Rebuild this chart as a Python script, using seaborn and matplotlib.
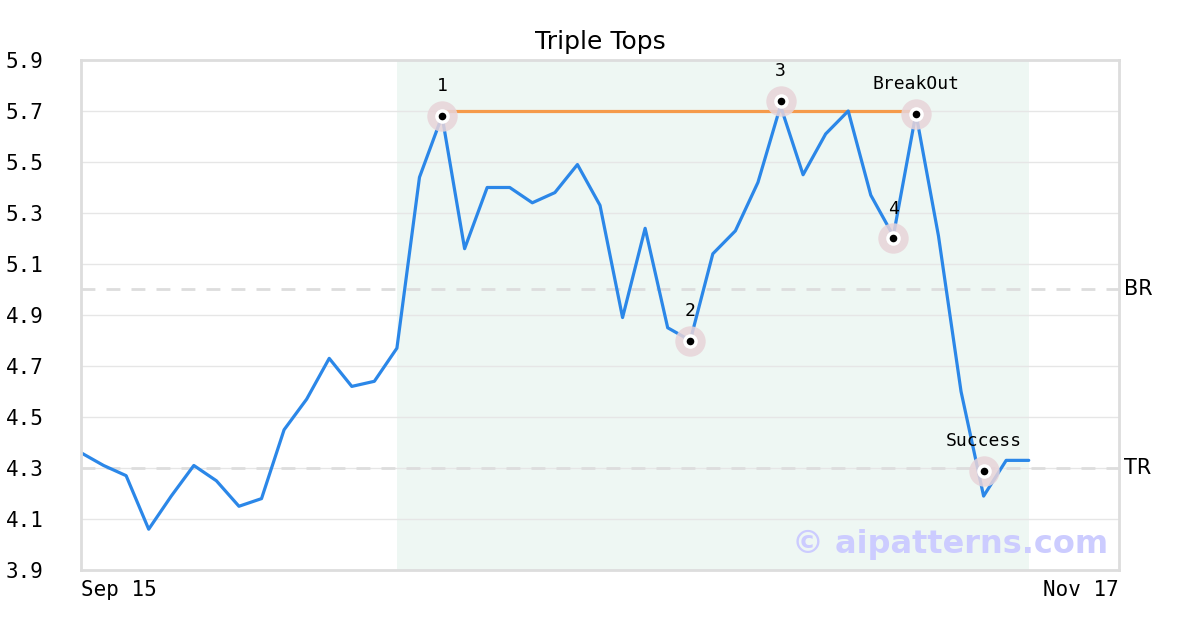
import numpy as np
import pandas as pd
import matplotlib
matplotlib.use("Agg")
import matplotlib.pyplot as plt
import seaborn as sns

# price series, one value per trading day (index 0 = Sep 15)
prices = [4.36, 4.31, 4.27, 4.06, 4.19, 4.31, 4.25, 4.15, 4.18, 4.45,
          4.57, 4.73, 4.62, 4.64, 4.77, 5.44, 5.68, 5.16, 5.40, 5.40,
          5.34, 5.38, 5.49, 5.33, 4.89, 5.24, 4.85, 4.80, 5.14, 5.23,
          5.42, 5.72, 5.45, 5.61, 5.70, 5.37, 5.21, 5.69, 5.21, 4.60,
          4.19, 4.33, 4.33]
n_days = 47  # axis spans Sep 15 .. Nov 17
x_labels = ["Sep 15", "Nov 17"]

# pattern points
pt_labels = ["1", "2", "3", "4", "BreakOut", "Success"]
pt_idx = [16, 27, 31, 36, 37, 40]
pt_vals = [5.68, 4.80, 5.74, 5.20, 5.69, 4.29]

resistance = 5.70
res_span = (16, 37)
pattern_span = (14, 42)
br_level = 5.0
tr_level = 4.3
y_ticks = [3.9, 4.1, 4.3, 4.5, 4.7, 4.9, 5.1, 5.3, 5.5, 5.7, 5.9]

df = pd.DataFrame({"day": np.arange(len(prices)), "price": prices})
pts = pd.DataFrame({"day": pt_idx, "price": pt_vals, "label": pt_labels})

sns.set_style("white")
plt.rcParams["font.family"] = ["DejaVu Sans"]
plt.rcParams["text.color"] = "black"
plt.rcParams["xtick.color"] = "black"
plt.rcParams["ytick.color"] = "black"

fig = plt.figure(figsize=(12, 6.3), dpi=100)
ax = fig.add_axes([0.0675, 0.0952, 0.865, 0.8096])

ax.axvspan(*pattern_span, color="#eef7f3", zorder=0, lw=0)
for yt in y_ticks:
    ax.axhline(yt, color="#e6e6e6", lw=1, zorder=0.5)
for lvl in (br_level, tr_level):
    ax.axhline(lvl, color="#dddddd", lw=2, ls=(0, (5, 4)), zorder=0.6)

sns.lineplot(data=df, x="day", y="price", ax=ax, color="#2b87e8", lw=2.3, zorder=2)
ax.plot(res_span, [resistance, resistance], color="#f59a4a", lw=2.3, zorder=1.5)

sns.scatterplot(data=pts, x="day", y="price", ax=ax, s=480, color="#e8d4d9",
                alpha=0.85, linewidth=0, zorder=3, legend=False)
sns.scatterplot(data=pts, x="day", y="price", ax=ax, s=110, color="white",
                linewidth=0, zorder=4, legend=False)
sns.scatterplot(data=pts, x="day", y="price", ax=ax, s=30, color="black",
                linewidth=0, zorder=5, legend=False)

for _, r in pts.iterrows():
    ax.annotate(r["label"], (r["day"], r["price"]), xytext=(0, 15),
                textcoords="offset points", ha="center", va="bottom",
                fontsize=13, family="DejaVu Sans Mono")

ax.text(1.005, br_level, "BR", transform=ax.get_yaxis_transform(),
        va="center", ha="left", fontsize=15)
ax.text(1.005, tr_level, "TR", transform=ax.get_yaxis_transform(),
        va="center", ha="left", fontsize=15)

ax.text(0.99, 0.05, "© aipatterns.com", transform=ax.transAxes, ha="right",
        va="center", fontsize=23, fontweight="bold", color="#ccccff", zorder=6)

ax.set_xlim(0, n_days - 1)
ax.set_ylim(3.9, 5.9)
ax.set_yticks(y_ticks)
ax.set_yticklabels([f"{v:.1f}" for v in y_ticks], family="DejaVu Sans Mono", fontsize=15)
ax.set_xticks([0, n_days - 1])
ax.set_xticklabels(x_labels, family="DejaVu Sans Mono", fontsize=15)
ax.get_xticklabels()[0].set_ha("left")
ax.get_xticklabels()[1].set_ha("right")
ax.tick_params(axis="x", length=0, pad=7)
ax.tick_params(axis="y", length=0, pad=27)
ax.set_xlabel("")
ax.set_ylabel("")
for sp in ax.spines.values():
    sp.set_color("#dddddd")
    sp.set_linewidth(2)

ax.set_title("Triple Tops", fontsize=18, pad=8)

plt.savefig("out.png", dpi=100)
plt.close()
